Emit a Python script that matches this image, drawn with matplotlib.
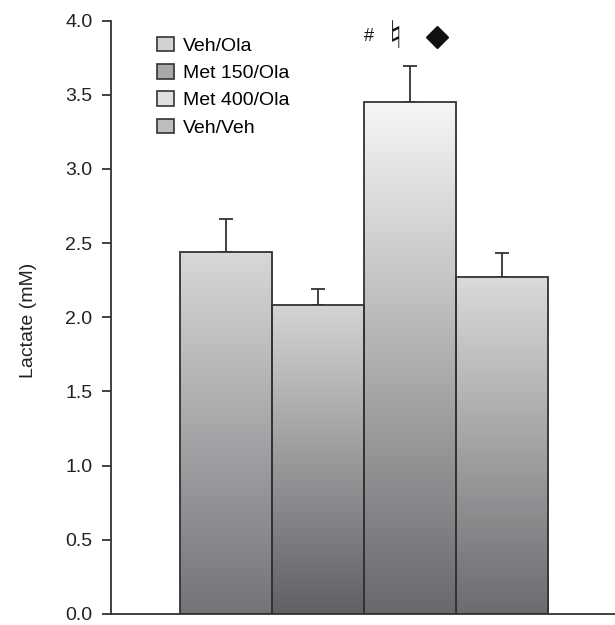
import numpy as np
import matplotlib
matplotlib.use("Agg")
import matplotlib.pyplot as plt
from matplotlib.patches import Patch
from matplotlib.colors import LinearSegmentedColormap

plt.rcParams['font.family'] = ['Liberation Sans', 'DejaVu Sans']

groups = ["Veh/Ola", "Met 150/Ola", "Met 400/Ola", "Veh/Veh"]
means = [2.44, 2.08, 3.45, 2.27]
sems = [0.22, 0.11, 0.24, 0.16]
yticks = [0.0, 0.5, 1.0, 1.5, 2.0, 2.5, 3.0, 3.5, 4.0]
marks = ["#", "\u266e", "\u25c6"]

top_colors = ["#d8d8d9", "#d3d4d5", "#f6f6f6", "#dadadb"]
bot_colors = ["#737478", "#606164", "#68696c", "#6b6c6f"]
legend_colors = ["#d2d2d3", "#a9a9aa", "#dfdfe0", "#bebebf"]
edge = "#333333"
txt = "#222222"

fig = plt.figure(figsize=(6.15, 6.25), dpi=100)
ax = fig.add_axes([111/615, 11/625, 504/615, 593.5/625])

x = np.arange(len(means))
bars = ax.bar(x, means, width=1.0, facecolor="none", edgecolor=edge,
              linewidth=1.3, zorder=3)
grad = np.linspace(0, 1, 256).reshape(-1, 1)
for b, tc, bc in zip(bars, top_colors, bot_colors):
    cmap = LinearSegmentedColormap.from_list("g", [bc, tc])
    x0, y0 = b.get_x(), b.get_y()
    w, h = b.get_width(), b.get_height()
    im = ax.imshow(grad, cmap=cmap, origin="lower", aspect="auto",
                   extent=[x0, x0 + w, y0, y0 + h], zorder=2,
                   interpolation="bilinear")
    im.set_clip_path(b)

ax.errorbar(x, means, yerr=[np.zeros(len(sems)), sems], fmt="none",
            ecolor=edge, elinewidth=1.3, capsize=5, capthick=1.3, zorder=1)

ax.set_xlim(-1.25, 4.228)
ax.set_ylim(0, 4.0)
ax.set_yticks(yticks)
ax.set_yticklabels([f"{t:.1f}" for t in yticks], fontsize=14, color=txt)
ax.set_xticks([])
ax.set_ylabel("Lactate (mM)", fontsize=14, color=txt)
ax.yaxis.set_label_coords(-0.1468, 0.494)
for s in ["top", "right"]:
    ax.spines[s].set_visible(False)
for s in ["left", "bottom"]:
    ax.spines[s].set_color(edge)
    ax.spines[s].set_linewidth(1.3)
ax.tick_params(axis="y", length=6.5, width=1.3, color=edge, pad=7)

# significance marks above bar 3
ax.text(1.554, 3.895, marks[0], ha="center", va="center", fontsize=13, color="#111111")
ax.text(1.848, 3.885, marks[1], ha="center", va="center", fontsize=27,
        color="#111111", family=["DejaVu Sans"], fontweight="bold")
ax.plot([2.293], [3.89], marker="D", markersize=11, color="#111111",
        linestyle="none", clip_on=False)

handles = [Patch(facecolor=c, edgecolor=edge, linewidth=1.2) for c in legend_colors]
ax.legend(handles, groups, loc="upper left", bbox_to_anchor=(0.0913, 0.973),
          frameon=False, fontsize=14, handlelength=0.85, handleheight=0.8,
          handletextpad=0.5, labelspacing=0.47, borderaxespad=0, borderpad=0)

fig.savefig("out.png", dpi=100)
